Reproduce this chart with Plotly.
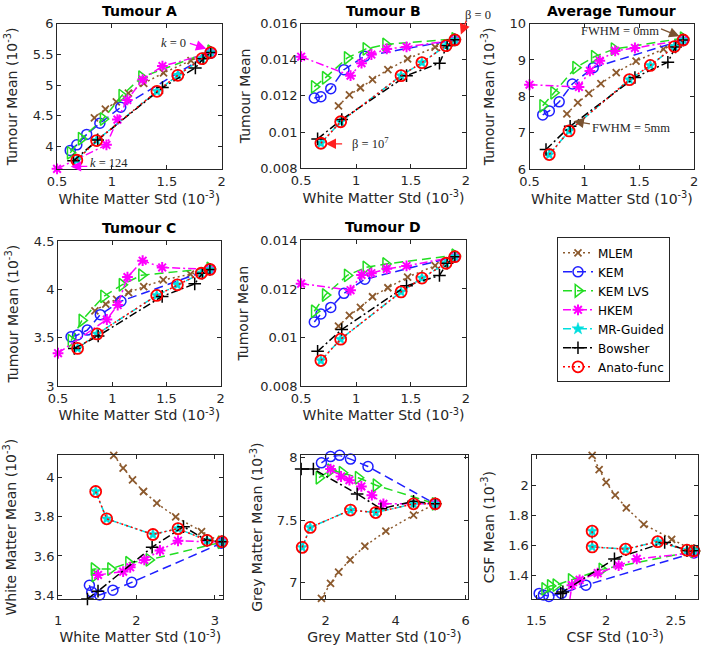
import plotly.graph_objects as go

W, H = 709, 647

METHODS = ["MLEM", "KEM", "KEM LVS", "HKEM", "MR-Guided", "Bowsher", "Anato-func"]

# ---------- Tumour panels: x = White Matter Std (10^-3), shared by all tumours ----------
wm_std_mlem = [0.84, 0.94, 1.04, 1.15, 1.29, 1.47, 1.72, 1.90]
wm_std_kem = [0.62, 0.68, 0.77, 0.89, 1.08, 1.90]
wm_std_kemlvs = [0.62, 0.72, 0.92, 1.09, 1.27, 1.90]
wm_std_hkem = [0.50, 0.95, 1.05, 1.14, 1.28, 1.46, 1.90]
wm_std_mrg = [0.68, 0.86, 1.41, 1.60, 1.82, 1.90]      # MR-Guided and Anato-func
wm_std_bowsher = [0.65, 0.87, 1.46, 1.76, 1.83, 1.90]

# Tumour A mean (10^-3)
tumA_mlem = [4.47, 4.61, 4.73, 4.87, 5.03, 5.20, 5.40, 5.53]
tumA_kem = [3.94, 4.03, 4.20, 4.38, 4.64, 5.52]
tumA_kemlvs = [3.90, 4.13, 4.45, 4.83, 5.13, 5.55]
tumA_hkem = [3.64, 4.03, 4.44, 4.76, 5.09, 5.31, 5.52]
tumA_mrg = [3.78, 4.10, 4.90, 5.16, 5.43, 5.53]
tumA_bowsher = [3.77, 4.11, 4.96, 5.28, 5.43, 5.53]

# Tumour B mean
tumB_mlem = [0.01145, 0.01205, 0.01245, 0.0129, 0.01345, 0.01405, 0.0147, 0.0151]
tumB_kem = [0.01188, 0.01195, 0.0124, 0.01345, 0.0142, 0.0151]
tumB_kemlvs = [0.0125, 0.0130, 0.0141, 0.0146, 0.01485, 0.01515]
tumB_hkem = [0.01417, 0.01312, 0.01381, 0.01429, 0.0146, 0.01471, 0.0151]
tumB_mrg = [0.00938, 0.01057, 0.01312, 0.01384, 0.01478, 0.0151]
tumB_bowsher = [0.00962, 0.01069, 0.01312, 0.01381, 0.01478, 0.0151]

# Average tumour mean (10^-3)
avg_mlem = [7.52, 7.83, 8.08, 8.35, 8.65, 8.97, 9.30, 9.55]
avg_kem = [7.49, 7.60, 7.85, 8.34, 8.79, 9.55]
avg_kemlvs = [7.74, 8.10, 8.79, 9.09, 9.30, 9.60]
avg_hkem = [8.32, 8.26, 8.70, 8.98, 9.25, 9.33, 9.55]
avg_mrg = [6.40, 7.05, 8.46, 8.85, 9.37, 9.55]
avg_bowsher = [6.54, 7.18, 8.52, 8.94, 9.36, 9.55]

# Tumour C mean (10^-3)
tumC_mlem = [3.78, 3.85, 3.90, 3.97, 4.03, 4.10, 4.16, 4.21]
tumC_kem = [3.51, 3.53, 3.58, 3.74, 3.88, 4.21]
tumC_kemlvs = [3.47, 3.68, 3.93, 4.05, 4.15, 4.22]
tumC_hkem = [3.34, 3.69, 3.84, 4.13, 4.30, 4.23, 4.21]
tumC_mrg = [3.39, 3.54, 3.94, 4.05, 4.17, 4.21]
tumC_bowsher = [3.39, 3.52, 3.93, 4.06, 4.17, 4.21]

# Tumour D mean
tumD_mlem = [0.01047, 0.01091, 0.01124, 0.01168, 0.01205, 0.01249, 0.01296, 0.01333]
tumD_kem = [0.01064, 0.01097, 0.01124, 0.01182, 0.0124, 0.01333]
tumD_kemlvs = [0.01108, 0.01175, 0.01256, 0.01289, 0.01303, 0.01339]
tumD_hkem = [0.01222, 0.01195, 0.01258, 0.01265, 0.01283, 0.01295, 0.01333]
tumD_mrg = [0.00905, 0.00993, 0.01188, 0.01245, 0.01306, 0.01333]
tumD_bowsher = [0.00943, 0.01033, 0.01213, 0.01256, 0.01306, 0.01333]

# ---------- White matter panel (10^-3) ----------
wm_x_mlem = [1.71, 1.83, 1.95, 2.09, 2.26, 2.50, 2.83, 3.08]
wm_y_mlem = [4.115, 4.05, 3.99, 3.93, 3.87, 3.80, 3.725, 3.67]
wm_x_kem = [1.40, 1.43, 1.53, 1.70, 1.94, 3.08]
wm_y_kem = [3.45, 3.415, 3.40, 3.425, 3.465, 3.665]
wm_x_kemlvs = [1.47, 1.46, 1.67, 1.90, 2.16, 3.08]
wm_y_kemlvs = [3.50, 3.533, 3.533, 3.565, 3.58, 3.67]
wm_x_hkem = [1.51, 1.83, 1.92, 2.10, 2.30, 2.53, 3.08]
wm_y_hkem = [3.503, 3.52, 3.542, 3.58, 3.628, 3.678, 3.67]
wm_x_mrg = [1.48, 1.62, 2.21, 2.53, 2.90, 3.09]
wm_y_mrg = [3.93, 3.79, 3.71, 3.74, 3.68, 3.673]
wm_x_bowsher = [1.375, 1.51, 2.20, 2.60, 2.90, 3.09]
wm_y_bowsher = [3.38, 3.42, 3.645, 3.75, 3.68, 3.673]

# ---------- Grey matter panel (10^-3) ----------
gm_x_mlem = [1.88, 2.14, 2.37, 2.70, 3.12, 3.72, 4.51, 5.13]
gm_y_mlem = [6.87, 6.99, 7.08, 7.18, 7.29, 7.41, 7.54, 7.63]
gm_x_kem = [1.88, 2.14, 2.40, 2.71, 3.21, 5.13]
gm_y_kem = [7.96, 8.01, 8.02, 7.99, 7.93, 7.63]
gm_x_kemlvs = [1.81, 2.14, 2.47, 2.93, 3.44, 5.13]
gm_y_kemlvs = [7.84, 7.90, 7.88, 7.84, 7.78, 7.63]
gm_x_hkem = [2.14, 2.44, 2.68, 3.02, 3.32, 3.65, 5.13]
gm_y_hkem = [7.91, 7.85, 7.82, 7.77, 7.70, 7.63, 7.63]
gm_x_mrg = [1.33, 1.56, 2.71, 3.43, 4.51, 5.13]
gm_y_mrg = [7.28, 7.44, 7.58, 7.56, 7.63, 7.63]
gm_x_bowsher = [1.30, 1.65, 2.90, 3.58, 4.51, 5.13]
gm_y_bowsher = [7.91, 7.91, 7.71, 7.59, 7.65, 7.63]

# ---------- CSF panel (10^-3) ----------
csf_x_mlem = [1.90, 1.95, 2.00, 2.065, 2.145, 2.27, 2.47, 2.63]
csf_y_mlem = [2.20, 2.105, 2.02, 1.935, 1.85, 1.74, 1.64, 1.564]
csf_x_kem = [1.52, 1.55, 1.59, 1.68, 1.855, 2.63]
csf_y_kem = [1.28, 1.27, 1.26, 1.28, 1.335, 1.55]
csf_x_kemlvs = [1.56, 1.60, 1.64, 1.75, 1.97, 2.63]
csf_y_kemlvs = [1.31, 1.33, 1.335, 1.37, 1.44, 1.56]
csf_x_hkem = [1.74, 1.755, 1.81, 1.94, 2.09, 2.22, 2.63]
csf_y_hkem = [1.24, 1.335, 1.37, 1.415, 1.465, 1.51, 1.55]
csf_x_mrg = [1.90, 1.90, 2.14, 2.37, 2.58, 2.63]
csf_y_mrg = [1.695, 1.59, 1.575, 1.625, 1.568, 1.564]
csf_x_bowsher = [1.675, 1.69, 2.06, 2.42, 2.58, 2.63]
csf_y_bowsher = [1.28, 1.29, 1.51, 1.62, 1.565, 1.564]

TUMOUR_X = {"MLEM": wm_std_mlem, "KEM": wm_std_kem, "KEM LVS": wm_std_kemlvs, "HKEM": wm_std_hkem,
            "MR-Guided": wm_std_mrg, "Bowsher": wm_std_bowsher, "Anato-func": wm_std_mrg}

def tumour_series(mlem, kem, kemlvs, hkem, mrg, bowsher):
    ys = {"MLEM": mlem, "KEM": kem, "KEM LVS": kemlvs, "HKEM": hkem,
          "MR-Guided": mrg, "Bowsher": bowsher, "Anato-func": mrg}
    return {m: (TUMOUR_X[m], ys[m]) for m in METHODS}

def region_series(xm, ym, xk, yk, xl, yl, xh, yh, xr, yr, xb, yb):
    return {"MLEM": (xm, ym), "KEM": (xk, yk), "KEM LVS": (xl, yl), "HKEM": (xh, yh),
            "MR-Guided": (xr, yr), "Bowsher": (xb, yb), "Anato-func": (xr, yr)}

STYLE = {
    "MLEM": dict(color="#8c5a2e", dash="2px,3px", symbol="x-thin-open", size=7, mlw=1.8),
    "KEM": dict(color="#1f1fff", dash="9px,5px", symbol="circle-open", size=10, mlw=1.5),
    "KEM LVS": dict(color="#22dd22", dash="9px,5px", symbol="triangle-right-open", size=11, mlw=1.5),
    "HKEM": dict(color="#ff00ff", dash="8px,3px,2px,3px", symbol="asterisk-open", size=9, mlw=2),
    "MR-Guided": dict(color="#00dede", dash="8px,3px,2px,3px", symbol="star", size=9, mlw=0.5),
    "Bowsher": dict(color="#000000", dash="8px,3px,2px,3px", symbol="cross-thin-open", size=9, mlw=1.5),
    "Anato-func": dict(color="#ff0000", dash="2px,3px", symbol="circle-open", size=11, mlw=1.8),
}

SUP = "(10<sup>-3</sup>)"
panels = [
    dict(title="Tumour A", data=tumour_series(tumA_mlem, tumA_kem, tumA_kemlvs, tumA_hkem, tumA_mrg, tumA_bowsher),
         box=(48, 216, 17, 166), xr=[0.5, 2.0], yr=[3.635, 6.0], xt=[0.5, 1, 1.5, 2], yt=[4, 4.5, 5, 5.5, 6],
         xlab="White Matter Std " + SUP, ylab="Tumour Mean " + SUP, ysoff=11, xlso=0),
    dict(title="Tumour B", data=tumour_series(tumB_mlem, tumB_kem, tumB_kemlvs, tumB_hkem, tumB_mrg, tumB_bowsher),
         box=(297, 465, 17, 165), xr=[0.5, 2.0], yr=[0.008, 0.016], xt=[0.5, 1, 1.5, 2],
         yt=[0.008, 0.01, 0.012, 0.014, 0.016], ytt=["0.008", "0.01", "0.012", "0.014", "0.016"],
         xlab="White Matter Std " + SUP, ylab="Tumour Mean", ysoff=6, xlso=0),
    dict(title="Average Tumour", data=tumour_series(avg_mlem, avg_kem, avg_kemlvs, avg_hkem, avg_mrg, avg_bowsher),
         box=(530, 698, 17, 166), xr=[0.5, 2.0], yr=[6, 10], xt=[0.5, 1, 1.5, 2], yt=[6, 7, 8, 9, 10],
         xlab="White Matter Std " + SUP, ylab="Tumour Mean " + SUP, ysoff=11, xlso=0),
    dict(title="Tumour C", data=tumour_series(tumC_mlem, tumC_kem, tumC_kemlvs, tumC_hkem, tumC_mrg, tumC_bowsher),
         box=(49, 215, 240, 388), xr=[0.5, 2.0], yr=[3.0, 4.5], xt=[0.5, 1, 1.5, 2], yt=[3, 3.5, 4, 4.5],
         xlab="White Matter Std " + SUP, ylab="Tumour Mean " + SUP, ysoff=11, xlso=0),
    dict(title="Tumour D", data=tumour_series(tumD_mlem, tumD_kem, tumD_kemlvs, tumD_hkem, tumD_mrg, tumD_bowsher),
         box=(297, 465, 239, 388), xr=[0.5, 2.0], yr=[0.008, 0.014], xt=[0.5, 1, 1.5, 2],
         yt=[0.008, 0.01, 0.012, 0.014], ytt=["0.008", "0.01", "0.012", "0.014"],
         xlab="White Matter Std " + SUP, ylab="Tumour Mean", ysoff=8, xlso=0),
    dict(title=None, data=region_series(wm_x_mlem, wm_y_mlem, wm_x_kem, wm_y_kem, wm_x_kemlvs, wm_y_kemlvs,
                                        wm_x_hkem, wm_y_hkem, wm_x_mrg, wm_y_mrg, wm_x_bowsher, wm_y_bowsher),
         box=(49, 217, 459, 606), xr=[1.0, 3.1], yr=[3.38, 4.115], xt=[1, 2, 3], yt=[3.4, 3.6, 3.8, 4],
         xlab="White Matter Std " + SUP, ylab="White Matter Mean " + SUP, ysoff=13, xlso=9),
    dict(title=None, data=region_series(gm_x_mlem, gm_y_mlem, gm_x_kem, gm_y_kem, gm_x_kemlvs, gm_y_kemlvs,
                                        gm_x_hkem, gm_y_hkem, gm_x_mrg, gm_y_mrg, gm_x_bowsher, gm_y_bowsher),
         box=(297, 467, 459, 606), xr=[1.3, 6.06], yr=[6.865, 8.02], xt=[2, 4, 6], yt=[7, 7.5, 8],
         xlab="Grey Matter Std " + SUP, ylab="Grey Matter Mean " + SUP, ysoff=10, xlso=9),
    dict(title=None, data=region_series(csf_x_mlem, csf_y_mlem, csf_x_kem, csf_y_kem, csf_x_kemlvs, csf_y_kemlvs,
                                        csf_x_hkem, csf_y_hkem, csf_x_mrg, csf_y_mrg, csf_x_bowsher, csf_y_bowsher),
         box=(533, 702, 459, 606), xr=[1.472, 2.66], yr=[1.243, 2.2], xt=[1.5, 2, 2.5], yt=[1.4, 1.6, 1.8, 2],
         xlab="CSF Std " + SUP, ylab="CSF Mean " + SUP, ysoff=10, xlso=9),
]

AX = "#262626"
FONT = "DejaVu Sans"
fig = go.Figure()
annotations = []
layout = dict(width=W, height=H, margin=dict(l=0, r=0, t=0, b=0),
              paper_bgcolor="white", plot_bgcolor="white",
              font=dict(family=FONT, size=13, color=AX))

for i, p in enumerate(panels):
    n = "" if i == 0 else str(i + 1)
    xa, ya = "x" + n, "y" + n
    for m in METHODS:
        s = STYLE[m]
        xs, ys = p["data"][m]
        fig.add_trace(go.Scatter(
            x=xs, y=ys, xaxis=xa, yaxis=ya, mode="lines+markers", name=m,
            showlegend=(i == 0), legendgroup=m, cliponaxis=False,
            line=dict(color=s["color"], width=1.5, dash=s["dash"]),
            marker=dict(symbol=s["symbol"], size=s["size"], color=s["color"],
                        line=dict(color=s["color"], width=s["mlw"]))))
    l, r, t, b = p["box"]
    common = dict(showline=True, mirror="ticks", linecolor=AX, linewidth=1, ticks="inside",
                  ticklen=4, tickcolor=AX, showgrid=False, zeroline=False,
                  tickfont=dict(family=FONT, size=13, color=AX))
    xaxis = dict(common, domain=[l / W, r / W], range=p["xr"], tickvals=p["xt"], anchor=ya,
                 ticklabelstandoff=p["xlso"],
                 title=dict(text=p["xlab"], font=dict(family=FONT, size=14, color=AX), standoff=2))
    yaxis = dict(common, domain=[1 - b / H, 1 - t / H], range=p["yr"], tickvals=p["yt"], anchor=xa,
                 title=dict(text=p["ylab"], font=dict(family=FONT, size=14, color=AX), standoff=p["ysoff"]))
    if "ytt" in p:
        yaxis["ticktext"] = p["ytt"]
    layout["xaxis" + n] = xaxis
    layout["yaxis" + n] = yaxis
    if p["title"]:
        annotations.append(dict(text="<b>" + p["title"] + "</b>", xref="paper", yref="paper",
                                x=(l + r) / 2 / W, y=1 - t / H, xanchor="center", yanchor="bottom",
                                yshift=3, showarrow=False, font=dict(family=FONT, size=14, color="black")))

SERIF = dict(family="Liberation Serif", size=12.5, color=AX)

def label(text, xref, yref, x, y):
    annotations.append(dict(text=text, xref=xref, yref=yref, x=x, y=y, showarrow=False,
                            xanchor="center", yanchor="middle", font=SERIF))

def arrow(xref, yref, x, y, ax, ay, color):
    annotations.append(dict(text="", xref=xref, yref=yref, x=x, y=y, ax=ax, ay=ay,
                            showarrow=True, arrowhead=2, arrowsize=1.6, arrowwidth=1.3,
                            arrowcolor=color))

# Tumour A
label("<i>k</i> = 0", "x", "y", 1.56, 5.68)
arrow("x", "y", 1.86, 5.59, -18, -6, "#ff00ff")
label("<i>k</i> = 124", "x", "y", 0.97, 3.73)
arrow("x", "y", 0.625, 3.68, 18, 0, "#ff00ff")
# Tumour B
label("β = 10<sup>7</sup>", "x2", "y2", 1.134, 0.00941)
arrow("x2", "y2", 0.723, 0.00935, 18, 0, "#ff2020")
label("β = 0", "paper", "paper", 477 / W, 1 - 8 / H)
arrow("x2", "y2", 1.955, 0.0154, 6, -15, "#ff2020")
# Average tumour
label("FWHM = 0mm", "x3", "y3", 1.32, 9.785)
arrow("x3", "y3", 1.866, 9.65, -20, -8, "#7a5230")
label("FWHM = 5mm", "x3", "y3", 1.42, 7.13)
arrow("x3", "y3", 0.90, 7.32, 18, 3, "#7a5230")

layout["annotations"] = annotations
layout["legend"] = dict(x=558 / W, y=1 - 310 / H, xanchor="left", yanchor="middle",
                        bordercolor=AX, borderwidth=1, bgcolor="white",
                        font=dict(family=FONT, size=12, color="black"),
                        tracegroupgap=0, itemwidth=30)
fig.update_layout(**layout)
fig.write_html("out.html", config={"displayModeBar": False},
               post_script="document.body.style.margin='0px';")
